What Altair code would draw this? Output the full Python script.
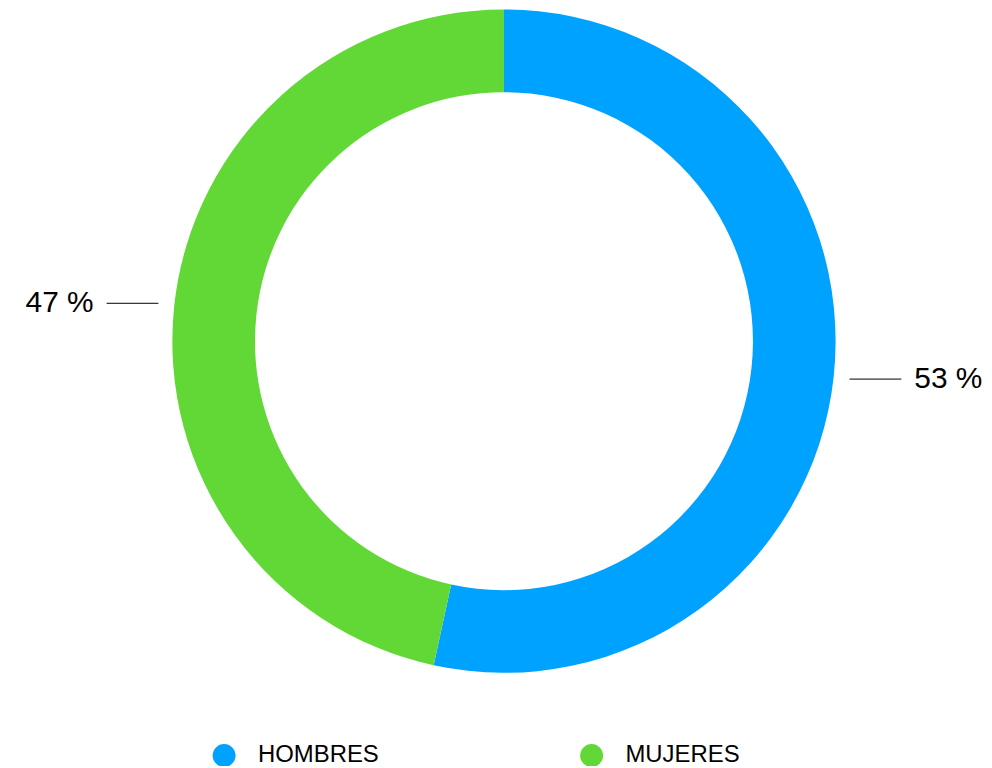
import altair as alt
import pandas as pd
import numpy as np

categories = ["HOMBRES", "MUJERES"]
values = [53.4, 46.6]
labels = ["53 %", "47 %"]
colors = ["#00A2FF", "#61D836"]

W, H = 980, 758
CX, CY = 498, 333
R_OUT, R_IN = 333, 250
R_LINE0, LINE_LEN, GAP = 347, 52, 13

df = pd.DataFrame({"cat": categories, "value": values, "label": labels, "order": list(range(len(categories)))})
total = df["value"].sum()
mid = (df["value"].cumsum() - df["value"] / 2) / total * 2 * np.pi
side = np.sign(np.sin(mid))
df["side"] = np.where(side > 0, "right", "left")
df["ly"] = CY - (R_LINE0 + 10) * np.cos(mid)
df["lx0"] = CX + side * R_LINE0
df["lx1"] = df["lx0"] + side * LINE_LEN
df["tx"] = df["lx1"] + side * GAP

color = alt.Color(
    "cat:N",
    scale=alt.Scale(domain=categories, range=colors),
    legend=alt.Legend(
        title=None,
        orient="none",
        legendX=205,
        legendY=737,
        direction="horizontal",
        symbolType="circle",
        symbolSize=529,
        symbolStrokeWidth=0,
        symbolOpacity=1,
        labelFont="Liberation Sans",
        labelFontSize=24,
        labelColor="#000000",
        labelOffset=22,
        columnPadding=201,
        padding=0,
    ),
)

arc = alt.Chart(df).mark_arc(outerRadius=R_OUT, innerRadius=R_IN).encode(
    theta=alt.Theta("value:Q", stack=True),
    color=color,
    order=alt.Order("order:Q"),
    x=alt.value(CX),
    y=alt.value(CY),
)

lines = alt.Chart(df).mark_rule(color="#000000", strokeWidth=1).encode(
    x=alt.X("lx0:Q", scale=None, axis=None),
    x2="lx1:Q",
    y=alt.Y("ly:Q", scale=None, axis=None),
)

txt_r = alt.Chart(df).transform_filter(alt.datum.side == "right").mark_text(
    align="left", baseline="middle", font="Liberation Sans", fontSize=30, color="#000000"
).encode(x=alt.X("tx:Q", scale=None), y=alt.Y("ly:Q", scale=None), text="label:N")

txt_l = alt.Chart(df).transform_filter(alt.datum.side == "left").mark_text(
    align="right", baseline="middle", font="Liberation Sans", fontSize=30, color="#000000"
).encode(x=alt.X("tx:Q", scale=None), y=alt.Y("ly:Q", scale=None), text="label:N")

chart = alt.layer(arc, lines, txt_r, txt_l).properties(
    width=W, height=H, autosize=alt.AutoSizeParams(type="none"), padding=0
).configure_view(stroke=None)

chart.save("out.html", embed_options={"renderer": "svg", "actions": False})
